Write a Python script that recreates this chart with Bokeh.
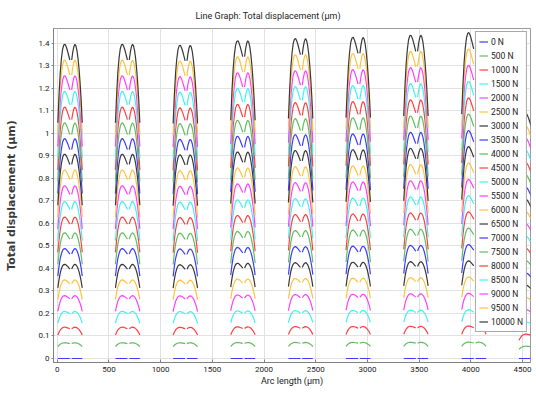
import numpy as np
from bokeh.plotting import figure
from bokeh.models import Range1d, FixedTicker
from bokeh.embed import file_html
from bokeh.resources import INLINE

# ---- data ----
loads = ["0 N", "500 N", "1000 N", "1500 N", "2000 N", "2500 N", "3000 N",
         "3500 N", "4000 N", "4500 N", "5000 N", "5500 N", "6000 N", "6500 N",
         "7000 N", "7500 N", "8000 N", "8500 N", "9000 N", "9500 N", "10000 N"]
# peak displacement of each load case on the first structure (µm)
series_peak = [0.0, 0.070, 0.139, 0.209, 0.279, 0.349, 0.418, 0.488, 0.558,
               0.628, 0.697, 0.767, 0.837, 0.907, 0.976, 1.046, 1.116, 1.186,
               1.255, 1.325, 1.395]
# start of each structure along the arc (µm) and its peak relative to the first
region_start = [6, 563, 1121, 1678, 2236, 2793, 3351, 3912, 4466]
region_scale = [1.0, 1.0, 0.997, 1.011, 1.018, 1.022, 1.029, 1.037, 0.78]
# shape of the left and right hump of a structure (fraction of length, fraction of peak)
hump_t = [0.0, 0.1, 0.2, 0.3, 0.4, 0.5, 0.6, 0.7, 0.8, 0.9, 1.0]
hump_left = [0.75, 0.84, 0.91, 0.955, 0.985, 0.998, 1.0, 0.992, 0.98, 0.965, 0.95]
hump_right = [0.95, 0.975, 0.992, 1.0, 0.995, 0.98, 0.955, 0.92, 0.875, 0.82, 0.75]
hump_left_len = 116
hump_gap = 18
hump_right_len = 102

x_ticks = [0, 500, 1000, 1500, 2000, 2500, 3000, 3500, 4000, 4500]
y_ticks = [0, 0.1, 0.2, 0.3, 0.4, 0.5, 0.6, 0.7, 0.8, 0.9, 1.0, 1.1, 1.2, 1.3, 1.4]
y_tick_labels = ["0", "0.1", "0.2", "0.3", "0.4", "0.5", "0.6", "0.7", "0.8",
                 "0.9", "1", "1.1", "1.2", "1.3", "1.4"]

palette = ["#3c3cff", "#5fbf5f", "#ff4040", "#3ff2f2", "#ff40ff", "#ffc240", "#383838"]

TXT = "#222222"
FONT = "Roboto"

p = figure(width=536, height=394, output_backend="svg", toolbar_location=None,
           x_range=Range1d(-36, 4577), y_range=Range1d(-0.0177, 1.465),
           min_border_left=53, min_border_right=6, min_border_top=26,
           min_border_bottom=32)

p.title.text = "Line Graph: Total displacement (µm)"
p.title.text_font = FONT
p.title.text_font_size = "9px"
p.title.text_font_style = "normal"
p.title.text_color = TXT
p.title.align = "left"
p.title.offset = 142
p.title.standoff = 16

t = np.array(hump_t)
fl = np.array(hump_left)
fr = np.array(hump_right)
for i, name in enumerate(loads):
    xs, ys = [], []
    for r, x0 in enumerate(region_start):
        pk = series_peak[i] * region_scale[r]
        xs.append(list(x0 + t * hump_left_len))
        ys.append(list(pk * fl))
        xs.append(list(x0 + hump_left_len + hump_gap + t * hump_right_len))
        ys.append(list(pk * fr))
    p.multi_line(xs, ys, line_color=palette[i % len(palette)], line_width=1.2,
                 legend_label=name)

# axes
p.xaxis.ticker = FixedTicker(ticks=x_ticks)
p.yaxis.ticker = FixedTicker(ticks=y_ticks)
p.yaxis.major_label_overrides = {v: s for v, s in zip(y_ticks, y_tick_labels)}
for ax in (p.xaxis[0], p.yaxis[0]):
    ax.axis_line_color = "#808080"
    ax.major_tick_line_color = "#808080"
    ax.minor_tick_line_color = None
    ax.major_label_text_font = FONT
    ax.major_label_text_font_size = "8px"
    ax.major_label_text_color = TXT
    ax.axis_label_text_color = TXT
    ax.axis_label_text_font_style = "normal"
p.xaxis.major_tick_in = 3
p.xaxis.major_tick_out = 0
p.xaxis.major_label_standoff = 4
p.xaxis.axis_label = "Arc length (µm)"
p.xaxis.axis_label_text_font = FONT
p.xaxis.axis_label_text_font_size = "9px"
p.xaxis.axis_label_standoff = 1

p.yaxis.major_tick_in = 0
p.yaxis.major_tick_out = 2
p.yaxis.major_label_standoff = 2
p.yaxis.axis_label = "Total displacement (µm)"
p.yaxis.axis_label_text_font = "DejaVu Sans"
p.yaxis.axis_label_text_font_size = "11px"
p.yaxis.axis_label_text_font_style = "bold"
p.yaxis.axis_label_text_color = "#3a3a3a"
p.yaxis.axis_label_standoff = 17

p.xgrid.ticker = FixedTicker(ticks=x_ticks)
p.ygrid.ticker = FixedTicker(ticks=y_ticks)
p.grid.grid_line_color = "#e2e2e2"
p.outline_line_color = "#9a9a9a"

lg = p.legend[0]
lg.location = "top_right"
lg.margin = 3
lg.padding = 3
lg.spacing = 1
lg.glyph_width = 9
lg.glyph_height = 13
lg.label_height = 13
lg.label_standoff = 3
lg.label_text_font = FONT
lg.label_text_font_size = "8.5px"
lg.label_text_color = TXT
lg.border_line_color = "#555555"
lg.background_fill_alpha = 1.0

open("out.html", "w").write(file_html(p, INLINE))
